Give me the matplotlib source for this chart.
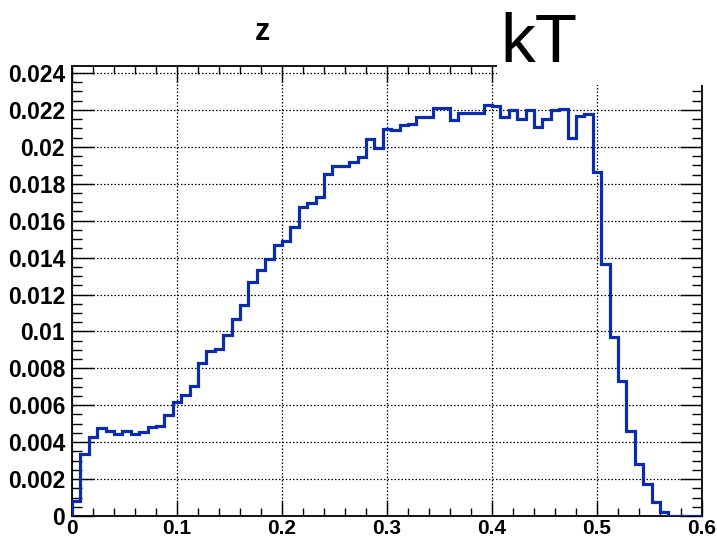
import numpy as np
import matplotlib
matplotlib.use("Agg")
import matplotlib.pyplot as plt
from matplotlib.patches import Rectangle
from matplotlib.ticker import MultipleLocator, FixedLocator

# =========================
# 1. Data (75 bins of 0.008 over 0 - 0.6)
# =========================
X_MIN, X_MAX, N_BINS = 0.0, 0.6, 75
bin_values = [
    0.0008, 0.00335, 0.0043, 0.00475, 0.0046, 0.00446, 0.0046, 0.00446, 0.00455, 0.0048,
    0.0049, 0.00547, 0.00615, 0.00658, 0.00704, 0.0083, 0.00895, 0.00905, 0.00978, 0.0107,
    0.01145, 0.01267, 0.01333, 0.01392, 0.0147, 0.01492, 0.01568, 0.01673, 0.01694, 0.0173,
    0.01851, 0.01896, 0.01896, 0.0192, 0.01944, 0.02041, 0.01996, 0.02095, 0.0209, 0.02116,
    0.02123, 0.02161, 0.02161, 0.02212, 0.02212, 0.02146, 0.02183, 0.02183, 0.02183, 0.02227,
    0.02222, 0.0216, 0.02198, 0.02151, 0.02198, 0.02106, 0.02151, 0.02198, 0.02205, 0.02047,
    0.02169, 0.02177, 0.01866, 0.01364, 0.00971, 0.00731, 0.0046, 0.0028, 0.00171, 0.00077,
    0.0002, 0.0, 0.0, 0.0, 0.0,
]
x_ticks = [0.0, 0.1, 0.2, 0.3, 0.4, 0.5, 0.6]
x_tick_labels = ["0", "0.1", "0.2", "0.3", "0.4", "0.5", "0.6"]
y_ticks = [0.0, 0.002, 0.004, 0.006, 0.008, 0.010, 0.012, 0.014, 0.016, 0.018, 0.020, 0.022, 0.024]
y_tick_labels = ["0", "0.002", "0.004", "0.006", "0.008", "0.01", "0.012",
                 "0.014", "0.016", "0.018", "0.02", "0.022", "0.024"]
TITLE = "z"
CORNER_LABEL = "kT"

# =========================
# 2. Figure
# =========================
plt.rcParams["font.family"] = ["Liberation Sans", "DejaVu Sans"]

fig = plt.figure(figsize=(7.17, 5.41), dpi=100)
ax = fig.add_axes([72 / 717, 1 - 516 / 541, 630 / 717, 450 / 541])

edges = np.linspace(X_MIN, X_MAX, N_BINS + 1)
ax.stairs(bin_values, edges, baseline=0, color="#0c2cb0", linewidth=2.3, zorder=3)

ax.set_xlim(X_MIN, X_MAX)
ax.set_ylim(0, 0.02438)

# =========================
# 3. Axes, ticks, grid
# =========================
ax.xaxis.set_major_locator(FixedLocator(x_ticks))
ax.set_xticklabels(x_tick_labels)
ax.yaxis.set_major_locator(FixedLocator(y_ticks))
ax.set_yticklabels(y_tick_labels)
ax.xaxis.set_minor_locator(MultipleLocator(0.02))
ax.yaxis.set_minor_locator(MultipleLocator(0.0005))

ax.tick_params(axis="both", which="both", direction="in", top=True, right=True,
               color="black", width=1.0)
ax.tick_params(axis="x", which="major", length=11.5, pad=2.5, labelsize=15)
ax.tick_params(axis="x", which="minor", length=5.8)
ax.tick_params(axis="y", which="major", length=15.5, pad=5, labelsize=16.5)
ax.tick_params(axis="y", which="minor", length=7.5)
for lab in ax.get_xticklabels() + ax.get_yticklabels():
    lab.set_fontweight("bold")

ax.grid(True, which="major", color="black", linestyle=(0, (1.2, 1.6)), linewidth=0.9)
ax.set_axisbelow(True)

for spine in ax.spines.values():
    spine.set_linewidth(1.3)

# =========================
# 4. Titles
# =========================
fig.text(262 / 717, 1 - 40 / 541, TITLE, ha="center", va="baseline",
         fontsize=22, fontweight="bold")

fig.patches.append(Rectangle((497 / 717, 1 - 85 / 541), 1 - 497 / 717, 85 / 541,
                             transform=fig.transFigure, facecolor="white",
                             edgecolor="none", zorder=5))
fig.text(500 / 717, 1 - 62 / 541, CORNER_LABEL, ha="left", va="baseline",
         fontsize=50, zorder=6)

fig.savefig("out.png", dpi=100)
